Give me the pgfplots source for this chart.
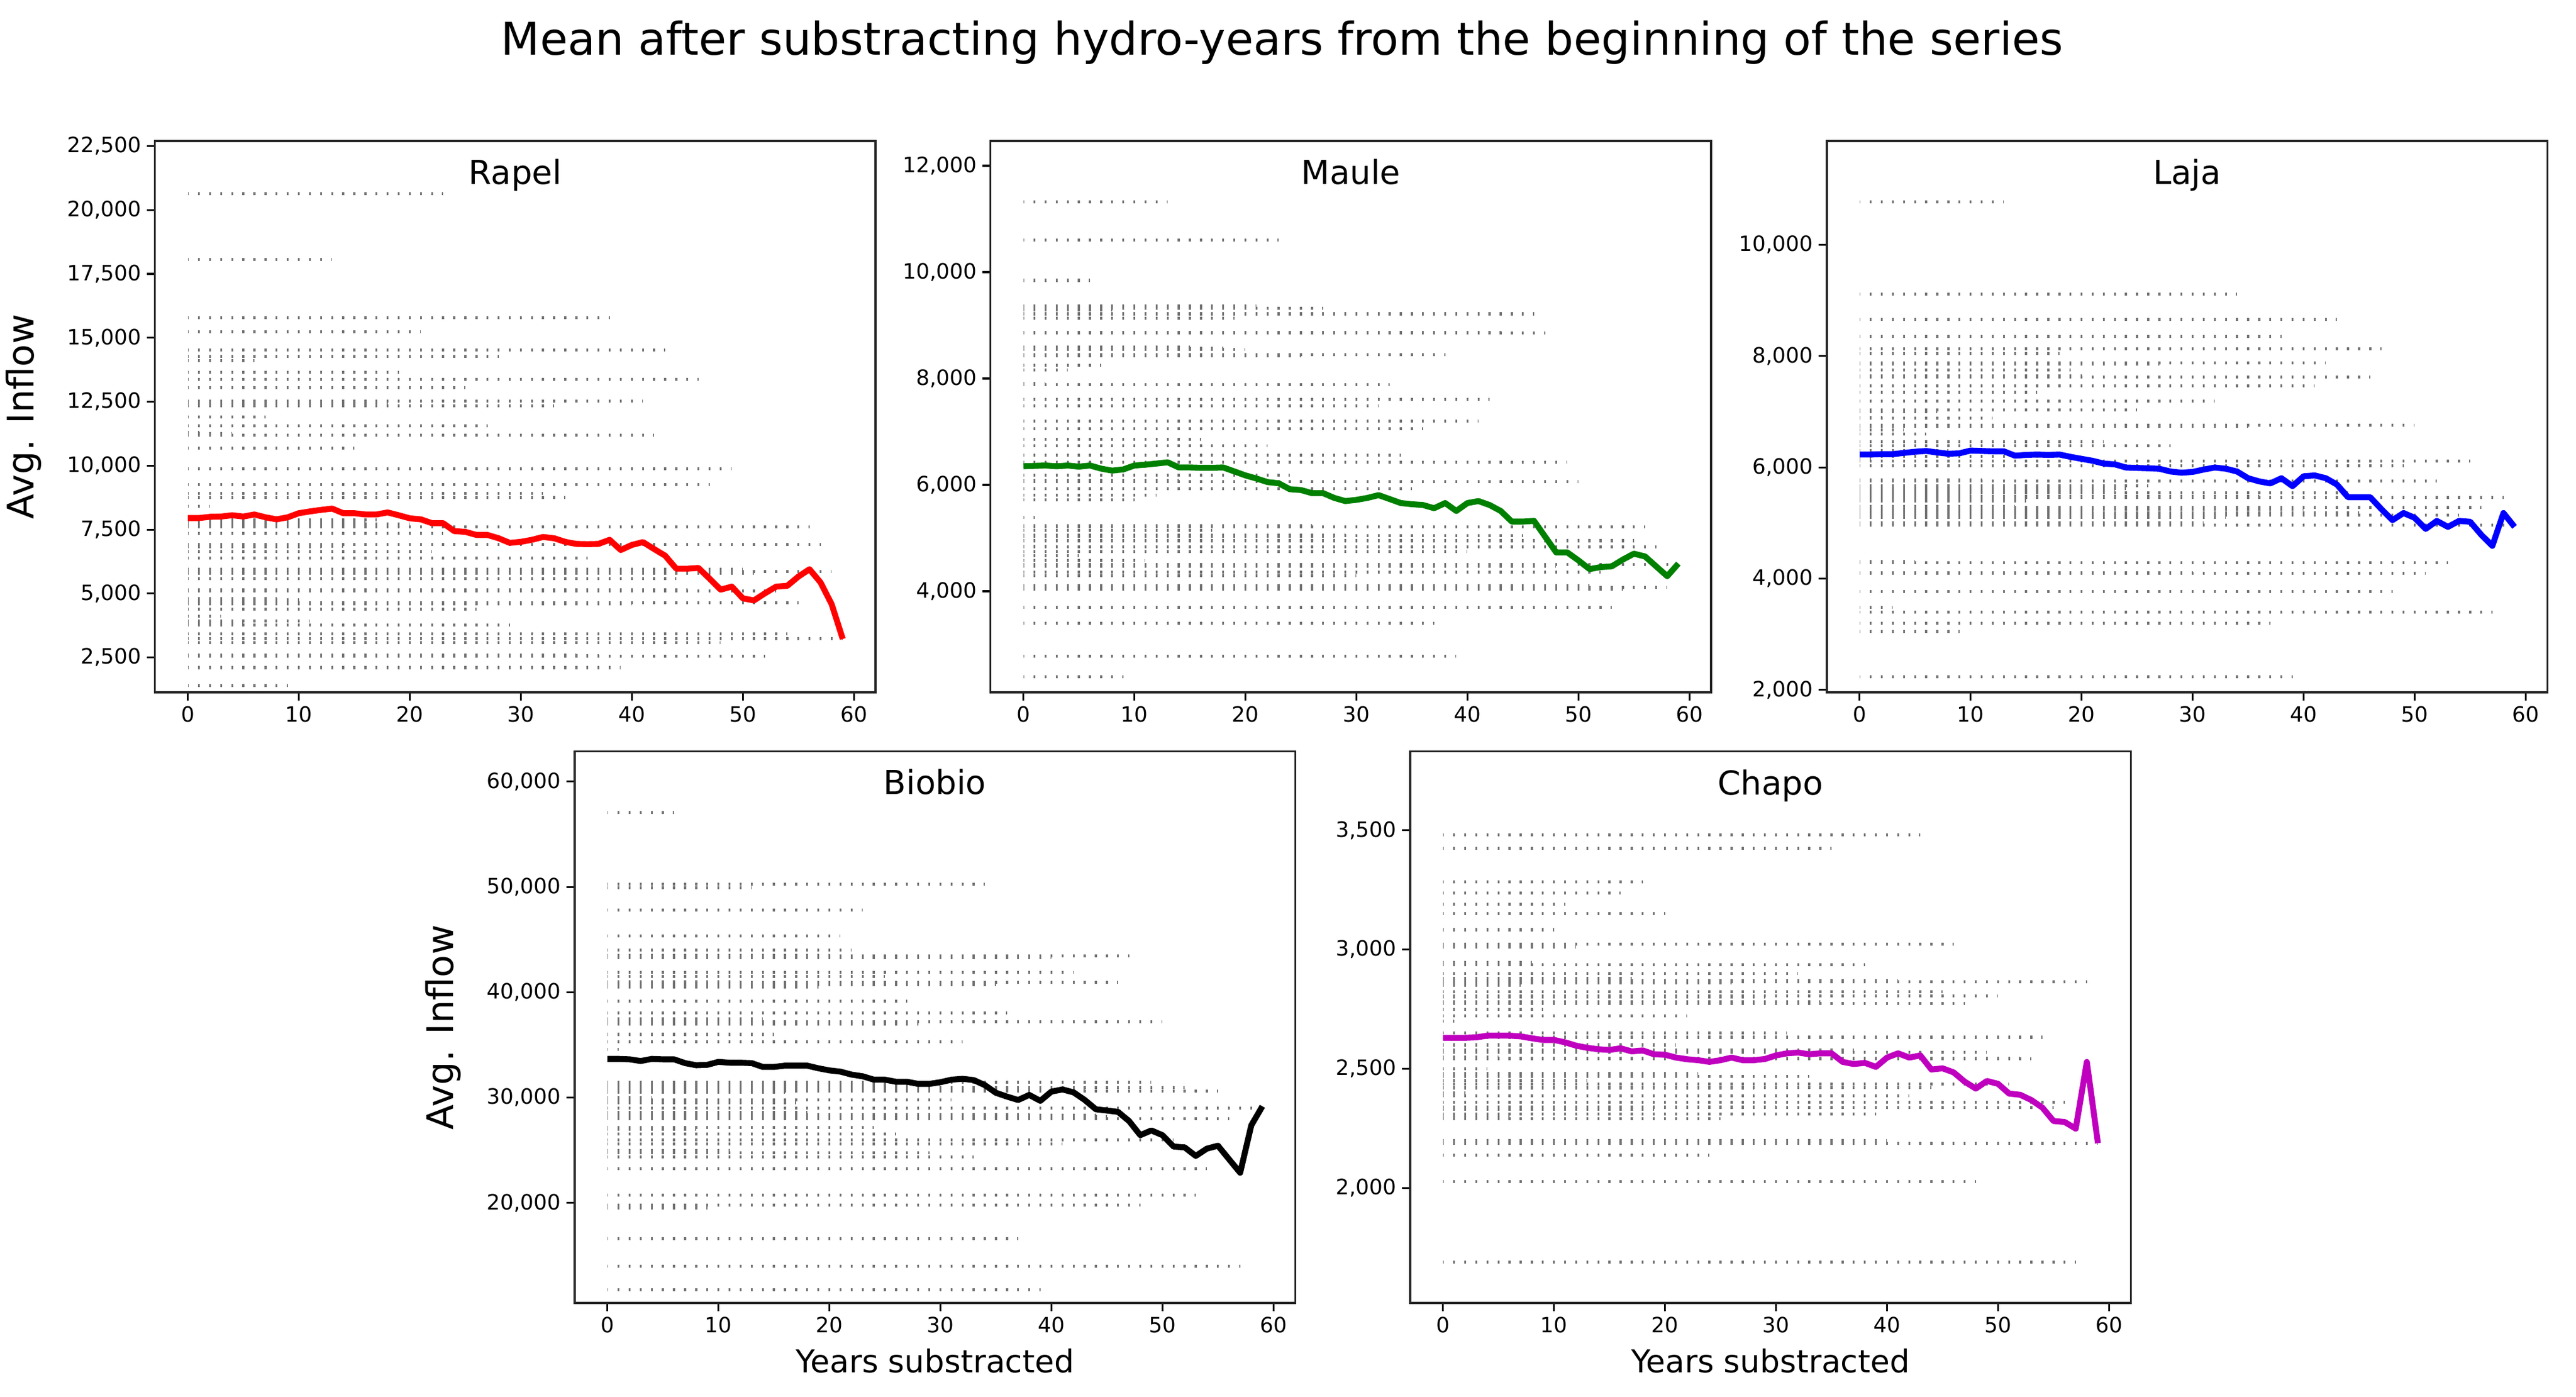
\documentclass[border=0pt]{standalone}
\usepackage{pgfplots}
\usepackage{pgfplotstable}
\pgfplotsset{compat=1.18}
\usepackage{fontspec}
\setmainfont{DejaVu Sans}

\definecolor{mplgreen}{rgb}{0,0.5,0}
\definecolor{mplmag}{rgb}{0.75,0,0.75}

% rows: a year's inflow (v) stays in the sample up to x = L years substracted
\pgfplotstableread{
L v
23 20640
13 18070
38 15780
21 15230
43 14530
28 14270
6 14100
19 13650
46 13380
25 13060
41 12520
33 12350
18 12430
7 11910
27 11560
42 11200
4 11250
1 11300
15 10680
49 9880
47 9260
32 8920
34 8760
2 8400
56 7610
16 7800
17 7880
20 7720
23 7350
57 6910
14 6850
12 6830
22 6640
36 6390
50 5950
30 5960
58 5850
51 5780
44 5590
45 5150
53 5090
10 4750
8 4790
55 4650
31 4620
40 4600
26 4380
3 4110
11 3920
5 3850
29 3770
54 3420
59 3230
48 3080
52 2540
37 2560
35 2590
39 2100
9 1410
}\rapelrows
\pgfplotstableread{
x m
0 7950
1 7950
2 8000
3 8010
4 8060
5 8010
6 8090
7 7980
8 7900
9 7980
10 8140
11 8210
12 8270
13 8320
14 8140
15 8140
16 8090
17 8090
18 8170
19 8060
20 7940
21 7900
22 7750
23 7750
24 7440
25 7410
26 7290
27 7290
28 7160
29 6980
30 7020
31 7100
32 7210
33 7160
34 7020
35 6940
36 6930
37 6940
38 7100
39 6700
40 6900
41 7010
42 6740
43 6480
44 5970
45 5970
46 6000
47 5580
48 5150
49 5270
50 4810
51 4730
52 5010
53 5270
54 5300
55 5660
56 5950
57 5430
58 4580
59 3220
}\rapelmean

\pgfplotstableread{
L v
13 11320
23 10600
6 9845
21 9360
27 9320
8 9290
46 9215
19 9130
47 8855
43 8870
15 8590
20 8550
18 8565
38 8450
25 8430
7 8250
4 8160
33 7880
2 7900
42 7610
32 7485
41 7200
36 7060
16 6855
22 6730
34 6560
49 6430
24 6185
50 6056
14 6080
35 5925
12 5805
10 5715
1 5385
56 5215
26 5230
17 5140
45 5040
29 5060
28 5030
0 5000
55 4950
57 4830
3 4840
40 4750
5 4665
11 4580
59 4500
48 4470
30 4290
52 4356
51 4110
44 4090
58 4070
31 4060
54 4040
53 3700
37 3400
39 2780
9 2390
}\maulerows
\pgfplotstableread{
x m
0 6349
1 6357
2 6364
3 6349
4 6364
5 6342
6 6364
7 6305
8 6268
9 6290
10 6364
11 6379
12 6401
13 6424
14 6327
15 6327
16 6320
17 6320
18 6327
19 6253
20 6178
21 6119
22 6052
23 6030
24 5918
25 5903
26 5844
27 5844
28 5755
29 5695
30 5718
31 5755
32 5807
33 5733
34 5658
35 5636
36 5621
37 5561
38 5658
39 5509
40 5658
41 5695
42 5621
43 5509
44 5309
45 5309
46 5323
47 5026
48 4729
49 4729
50 4580
51 4416
52 4454
53 4468
54 4595
55 4706
56 4654
57 4468
58 4282
59 4520
}\maulemean

\pgfplotstableread{
L v
13 10775
34 9110
43 8663
38 8350
47 8135
18 8045
42 7880
27 7860
19 7755
46 7620
20 7640
41 7470
16 7350
32 7190
7 7000
25 7035
12 6880
2 6900
50 6760
35 6740
4 6670
6 6600
22 6460
28 6385
8 6300
17 6200
1 6150
55 6110
49 6026
52 5755
11 5780
26 5667
24 5620
23 5560
44 5545
10 5500
36 5480
58 5456
15 5400
56 5280
14 5300
0 5300
29 5252
40 5250
21 5200
45 5180
54 5139
33 5100
31 5000
59 4960
53 4290
5 4310
51 4093
30 4110
48 3765
3 3485
57 3395
37 3200
9 3045
39 2235
}\lajarows
\pgfplotstableread{
x m
0 6231
1 6231
2 6238
3 6238
4 6260
5 6281
6 6295
7 6267
8 6245
9 6253
10 6302
11 6295
12 6288
13 6288
14 6210
15 6224
16 6231
17 6224
18 6231
19 6189
20 6153
21 6118
22 6068
23 6054
24 5997
25 5990
26 5983
27 5975
28 5926
29 5904
30 5918
31 5961
32 5997
33 5975
34 5926
35 5805
36 5748
37 5712
38 5805
39 5662
40 5840
41 5855
42 5805
43 5691
44 5463
45 5463
46 5463
47 5250
48 5051
49 5179
50 5093
51 4894
52 5037
53 4930
54 5037
55 5022
56 4788
57 4589
58 5179
59 4930
}\lajamean

\pgfplotstableread{
L v
6 57070
34 50270
13 49900
23 47780
21 45370
22 44000
20 43500
47 43440
40 43300
42 41910
25 41500
12 41000
46 40950
35 40700
19 40500
27 39140
36 38010
14 37500
50 37210
28 37000
3 37000
15 36000
32 35320
1 34590
49 31460
30 31200
2 31000
52 30940
43 30770
55 30590
16 30500
4 30000
0 30000
31 29800
17 29500
59 29000
18 28600
5 28500
38 28400
44 28300
45 28240
56 28000
7 28000
24 27150
8 27000
26 26550
10 26000
51 25990
41 25600
11 25000
29 24750
33 24340
54 23260
53 20720
48 19800
9 19500
37 16620
57 14000
39 11760
}\biobiorows
\pgfplotstableread{
x m
0 33670
1 33670
2 33630
3 33470
4 33670
5 33630
6 33630
7 33270
8 33070
9 33110
10 33390
11 33310
12 33310
13 33270
14 32910
15 32910
16 33030
17 33030
18 33030
19 32780
20 32580
21 32460
22 32180
23 32020
24 31700
25 31700
26 31500
27 31500
28 31300
29 31300
30 31460
31 31700
32 31780
33 31660
34 31180
35 30450
36 30090
37 29770
38 30250
39 29690
40 30570
41 30770
42 30490
43 29770
44 28890
45 28770
46 28640
47 27760
48 26430
49 26880
50 26430
51 25350
52 25270
53 24460
54 25150
55 25430
56 24140
57 22860
58 27360
59 29170
}\biobiomean

\pgfplotstableread{
L v
43 3480
35 3425
18 3283
16 3236
11 3190
20 3150
10 3083
46 3022
12 3010
8 2945
38 2937
3 2900
32 2900
17 2880
41 2870
58 2865
26 2860
7 2850
45 2822
50 2806
29 2800
34 2780
47 2774
9 2750
22 2721
1 2700
15 2650
31 2650
54 2632
0 2600
21 2600
37 2580
49 2569
5 2550
52 2545
53 2543
4 2500
23 2480
33 2467
13 2450
51 2436
44 2422
28 2420
2 2400
42 2387
56 2360
30 2340
55 2337
19 2330
39 2310
6 2300
25 2290
14 2200
27 2200
36 2200
40 2200
59 2188
24 2139
48 2027
57 1690
}\chaporows
\pgfplotstableread{
x m
0 2630
1 2630
2 2630
3 2632
4 2639
5 2639
6 2639
7 2636
8 2628
9 2621
10 2621
11 2611
12 2597
13 2588
14 2582
15 2579
16 2586
17 2573
18 2577
19 2561
20 2559
21 2547
22 2540
23 2536
24 2529
25 2536
26 2547
27 2536
28 2536
29 2541
30 2556
31 2565
32 2568
33 2561
34 2565
35 2565
36 2529
37 2520
38 2525
39 2508
40 2547
41 2565
42 2547
43 2556
44 2497
45 2502
46 2485
47 2446
48 2417
49 2449
50 2437
51 2396
52 2391
53 2369
54 2337
55 2281
56 2277
57 2249
58 2529
59 2188
}\chapomean

\pgfplotsset{
  panel/.style={
    width=436.3pt, height=333.8pt, scale only axis,
    xmin=-2.95, xmax=61.95,
    xtick={0,10,...,60},
    tick align=outside, tick pos=left,
    major tick length=4.9pt,
    every tick/.style={black, line width=1.1pt},
    axis line style={black!85, line width=1.1pt},
    ticklabel style={font=\fontsize{12.8}{14}\selectfont},
    /pgf/number format/assume math mode=true,
    /pgf/number format/1000 sep={,},
    scaled y ticks=false,
    title style={at={(axis description cs:0.5,1)}, anchor=base, yshift=-32pt,
      font=\fontsize{20}{24}\selectfont},
    ylabel style={at={(axis description cs:-0.1685,0.5)}, anchor=base,
      font=\fontsize{22.2}{26}\selectfont},
    xlabel style={at={(axis description cs:0.5,0)}, anchor=base, yshift=-42pt,
      font=\fontsize{19}{22}\selectfont},
  },
  rowdots/.style={xcomb, black, opacity=0.55, line width=1.8pt,
    dash pattern=on 1.2pt off 5.52265pt, dash phase=0.6pt},
  meanline/.style={line width=3.6pt, line join=round},
}

\begin{document}
\begin{tikzpicture}
\useasboundingbox (0,0) rectangle (1560pt,845.5pt);
\node[anchor=base, font=\fontsize{27.3}{31}\selectfont] at (776.5pt,812.1pt)
  {Mean after substracting hydro-years from the beginning of the series};

\begin{axis}[panel, at={(93.9pt,426.3pt)}, anchor=south west,
  ymin=1134, ymax=22695, ytick={2500,5000,...,22500},
  title={Rapel}, ylabel={Avg. Inflow}]
\addplot[rowdots] table[x=L, y=v] {\rapelrows};
\addplot[meanline, red] table[x=x, y=m] {\rapelmean};
\end{axis}

\begin{axis}[panel, at={(599.9pt,426.3pt)}, anchor=south west,
  ymin=2099, ymax=12464, ytick={4000,6000,...,12000},
  title={Maule}]
\addplot[rowdots] table[x=L, y=v] {\maulerows};
\addplot[meanline, mplgreen] table[x=x, y=m] {\maulemean};
\end{axis}

\begin{axis}[panel, at={(1106.3pt,426.3pt)}, anchor=south west,
  ymin=1955, ymax=11867, ytick={2000,4000,...,10000},
  title={Laja}]
\addplot[rowdots] table[x=L, y=v] {\lajarows};
\addplot[meanline, blue] table[x=x, y=m] {\lajamean};
\end{axis}

\begin{axis}[panel, at={(348pt,56.6pt)}, anchor=south west,
  ymin=10500, ymax=62840, ytick={20000,30000,...,60000},
  title={Biobio}, ylabel={Avg. Inflow}, xlabel={Years substracted}]
\addplot[rowdots] table[x=L, y=v] {\biobiorows};
\addplot[meanline, black] table[x=x, y=m] {\biobiomean};
\end{axis}

\begin{axis}[panel, at={(854pt,56.6pt)}, anchor=south west,
  ymin=1518, ymax=3830, ytick={2000,2500,...,3500},
  title={Chapo}, xlabel={Years substracted}]
\addplot[rowdots] table[x=L, y=v] {\chaporows};
\addplot[meanline, mplmag] table[x=x, y=m] {\chapomean};
\end{axis}
\end{tikzpicture}
\end{document}
